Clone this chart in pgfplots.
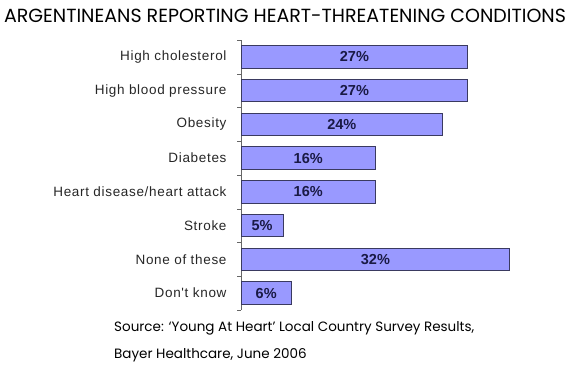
\documentclass[border=0pt]{standalone}
\usepackage{pgfplots}
\pgfplotsset{compat=1.18}
\usepackage{fontspec}
\setmainfont{Liberation Sans}
\newfontfamily\gothic{Poppins}
\newfontfamily\lblfont[LetterSpace=5]{Liberation Sans}
\definecolor{barfill}{HTML}{9999FF}
\definecolor{bardraw}{HTML}{3A3A60}
\definecolor{lblcol}{HTML}{1A1A45}
\begin{document}
\begin{tikzpicture}[x=1pt,y=1pt]
\useasboundingbox (0,0) rectangle (569,372);
\node[anchor=base, inner sep=0pt] at (285,349) {\gothic\fontsize{19}{21}\selectfont ARGENTINEANS REPORTING HEART-THREATENING CONDITIONS};
\begin{axis}[
  at={(241pt,62pt)}, anchor=south west,
  scale only axis, width=273pt, height=270pt,
  xmin=0, xmax=32.5, ymin=-0.5, ymax=7.5, y dir=reverse,
  xbar, bar width=22.5pt,
  hide x axis,
  axis y line*=left,
  axis line style={gray!80!black, -},
  ytick={0,...,7},
  yticklabels={High cholesterol, High blood pressure, Obesity, Diabetes, Heart disease/heart attack, Stroke, None of these, Don't know},
  major tick length=0pt,
  minor ytick={-0.5,0.5,...,7.5},
  minor tick length=4pt,
  tick align=outside,
  minor tick style={gray!80!black},
  yticklabel style={font=\lblfont\fontsize{13.5}{15}\selectfont, text=black!85, xshift=-11pt},
  /pgf/number format/assume math mode=true,
  clip=false,
]
\addplot[fill=barfill, draw=bardraw, line width=0.8pt,
  visualization depends on=rawx\as\rawx,
  nodes near coords={\pgfmathprintnumber[assume math mode=true]{\rawx}\%},
  every node near coord/.append style={anchor=center, xshift={-4.2pt*\rawx}, font=\bfseries\fontsize{14.5}{16}\selectfont, text=lblcol},
] coordinates {
(27,0) (27,1) (24,2) (16,3) (16,4) (5,5) (32,6) (6,7)
};
\end{axis}
\node[anchor=base west, inner sep=0pt, align=left] at (114,41) {\gothic\fontsize{13.5}{15}\selectfont Source: ‘Young At Heart’ Local Country Survey Results,};
\node[anchor=base west, inner sep=0pt, align=left] at (114,14) {\gothic\fontsize{13.5}{15}\selectfont Bayer Healthcare, June 2006};
\end{tikzpicture}
\end{document}
